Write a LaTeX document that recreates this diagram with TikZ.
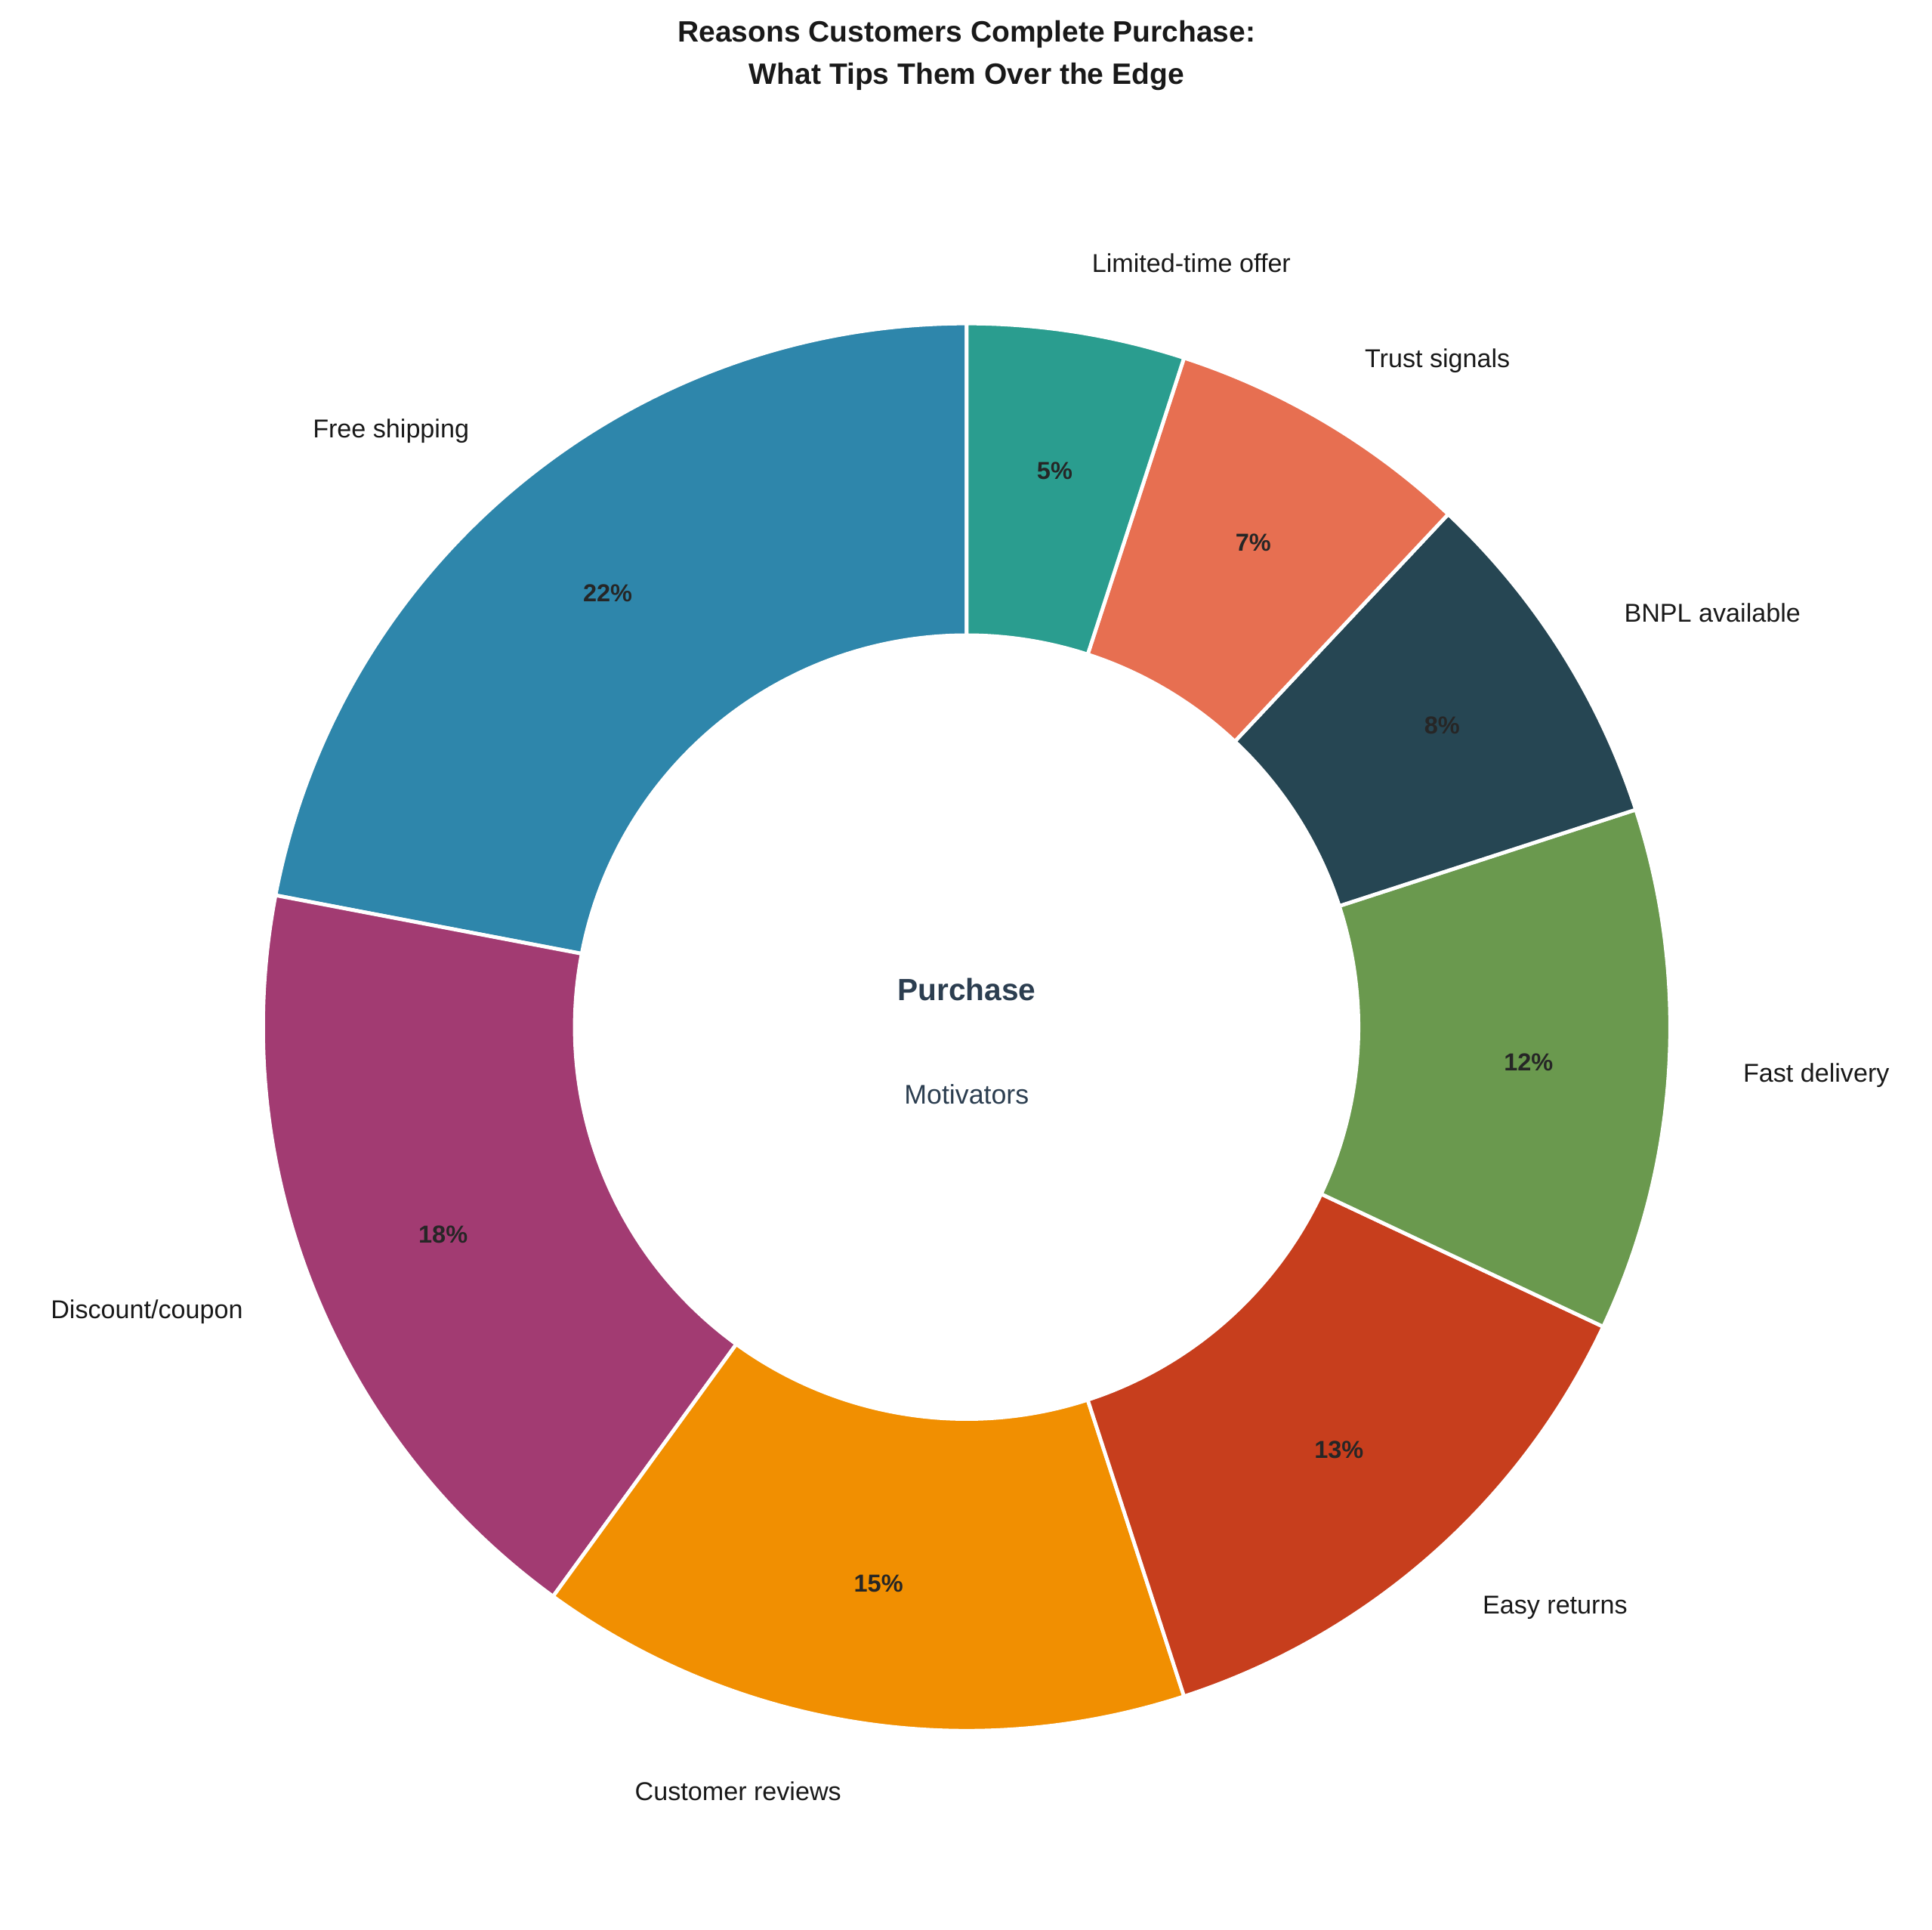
\documentclass[tikz,border=0pt]{standalone}
\usepackage{fontspec}
\setmainfont{Liberation Sans}
\usetikzlibrary{calc}
\begin{document}
\begin{tikzpicture}[x=1bp,y=1bp,
  lbl/.style={font=\fontsize{21}{24}\selectfont,text=black!90},
  pct/.style={font=\bfseries\fontsize{20}{24}\selectfont,text=black!85}]
\useasboundingbox (0,0) rectangle (1568,1566);
\definecolor{c1}{HTML}{2E86AB}\definecolor{c2}{HTML}{A23B72}
\definecolor{c3}{HTML}{F18F01}\definecolor{c4}{HTML}{C73E1D}
\definecolor{c5}{HTML}{6A994E}\definecolor{c6}{HTML}{264653}
\definecolor{c7}{HTML}{E76F51}\definecolor{c8}{HTML}{2A9D8F}
\definecolor{ctr}{HTML}{2C3E50}
\coordinate (O) at (784.5,732.5);
\def\Ro{571}\def\Ri{318}
\foreach \a/\b/\c/\p/\t [count=\i] in {
 90/169.2/c1/22/Free shipping,
 169.2/234/c2/18/Discount\slash coupon,
 234/288/c3/15/Customer reviews,
 288/334.8/c4/13/Easy returns,
 334.8/378/c5/12/Fast delivery,
 378/406.8/c6/8/BNPL available,
 406.8/432/c7/7/Trust signals,
 432/450/c8/5/Limited-time offer}{
  \fill[\c,draw=white,line width=3bp,line join=miter] ($(O)+(\a:\Ro)$) arc[start angle=\a,end angle=\b,radius=\Ro] -- ($(O)+(\b:\Ri)$) arc[start angle=\b,end angle=\a,radius=\Ri] -- cycle;
  \pgfmathsetmacro{\m}{(\a+\b)/2}
  \pgfmathsetmacro{\cs}{cos(\m)}
  \node[pct] (p\i) at ($(O)+(\m:457)$) {\p\%};
  \ifdim \cs pt<0pt
    \node[lbl,anchor=east] (l\i) at ($(O)+(\m:628)$) {\t};
  \else
    \node[lbl,anchor=west] (l\i) at ($(O)+(\m:628)$) {\t};
  \fi
}
\node[font=\bfseries\fontsize{25}{30}\selectfont,text=ctr] (pur) at (784.5,763) {Purchase};
\node[font=\fontsize{22}{26}\selectfont,text=ctr] (mot) at (784.5,678) {Motivators};
\node[font=\bfseries\fontsize{24}{34}\selectfont,align=center,text=black!90] (title) at (784.5,1521) {Reasons Customers Complete Purchase:\\What Tips Them Over the Edge};
\end{tikzpicture}
\end{document}
